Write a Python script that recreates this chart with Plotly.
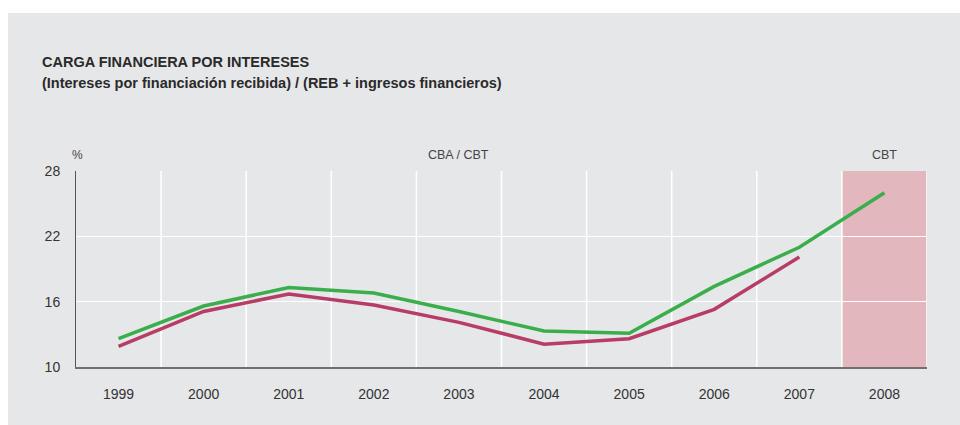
import plotly.graph_objects as go

years = [1999, 2000, 2001, 2002, 2003, 2004, 2005, 2006, 2007, 2008]
year_labels = [str(y) for y in years]
green_vals = [12.6, 15.6, 17.3, 16.8, 15.1, 13.3, 13.1, 17.4, 21.0, 26.0]
red_years = [1999, 2000, 2001, 2002, 2003, 2004, 2005, 2006, 2007]
red_vals = [11.9, 15.1, 16.7, 15.7, 14.1, 12.1, 12.6, 15.3, 20.1]
y_ticks = [10, 16, 22, 28]

FONT = "Liberation Sans, Arial, Helvetica, sans-serif"
BG = "#e6e7e9"

W, H = 960, 425
ML, MR, MT, MB = 76, 33, 171, 58
PW, PH = W - ML - MR, H - MT - MB

fig = go.Figure()
fig.add_trace(go.Scatter(x=years, y=green_vals, mode="lines",
                         line=dict(color="#3aae4a", width=3.5), showlegend=False, hoverinfo="skip"))
fig.add_trace(go.Scatter(x=red_years, y=red_vals, mode="lines",
                         line=dict(color="#b73c66", width=3.5), showlegend=False, hoverinfo="skip"))

shapes = []
shapes.append(dict(type="rect", xref="paper", yref="paper", x0=-(ML - 8) / PW, x1=1 + (MR + 10) / PW,
                   y0=-(MB + 10) / PH, y1=1 + (MT - 13) / PH, fillcolor=BG, line=dict(width=0), layer="below"))
shapes.append(dict(type="rect", xref="x", yref="y", x0=years[-1] - 0.5, x1=years[-1] + 0.5,
                   y0=y_ticks[0], y1=y_ticks[-1], fillcolor="#e2b8be", line=dict(width=0), layer="below"))
for yr in years:
    shapes.append(dict(type="line", xref="x", yref="y", x0=yr + 0.5, x1=yr + 0.5,
                       y0=y_ticks[0], y1=y_ticks[-1], line=dict(color="white", width=1.5), layer="below"))

def py(px_from_top):
    return 1 + (MT - px_from_top) / PH

fig.update_layout(
    width=W, height=H,
    margin=dict(l=ML, r=MR, t=MT, b=MB),
    paper_bgcolor="white", plot_bgcolor=BG,
    font=dict(family=FONT, color="#333333", size=14),
    shapes=shapes,
    hovermode=False,
    xaxis=dict(range=[years[0] - 0.5, years[-1] + 0.5], tickvals=years, ticktext=year_labels,
               showgrid=False, zeroline=False, showline=True, linecolor="#707070", linewidth=1.5,
               ticks="", ticklabelstandoff=14, tickfont=dict(size=14, color="#333333"), fixedrange=True),
    yaxis=dict(range=[y_ticks[0], y_ticks[-1]], tickvals=y_ticks, showgrid=True, gridcolor="white",
               gridwidth=1.5, zeroline=False, showline=True, linecolor="#555555", linewidth=1,
               ticks="", ticklabelstandoff=12, tickfont=dict(size=14, color="#333333"), fixedrange=True),
    annotations=[
        dict(text="<b>CARGA FINANCIERA POR INTERESES</b>", xref="paper", yref="paper",
             x=-(ML - 40) / PW, y=py(62), xanchor="left", yanchor="middle", showarrow=False,
             font=dict(size=14.5, color="#2a2a2a")),
        dict(text="<b>(Intereses por financiación recibida) / (REB + ingresos financieros)</b>",
             xref="paper", yref="paper",
             x=-(ML - 40) / PW, y=py(83), xanchor="left", yanchor="middle", showarrow=False,
             font=dict(size=14.5, color="#2a2a2a")),
        dict(text="%", xref="paper", yref="paper", x=-6 / PW, y=py(155), xanchor="left",
             yanchor="middle", showarrow=False, font=dict(size=12, color="#444444")),
        dict(text="CBA / CBT", xref="x", yref="paper", x=2003.0, y=py(155), xanchor="center",
             yanchor="middle", showarrow=False, font=dict(size=12.5, color="#444444")),
        dict(text="CBT", xref="x", yref="paper", x=2008, y=py(155), xanchor="center",
             yanchor="middle", showarrow=False, font=dict(size=12.5, color="#444444")),
    ],
)

fig.write_html("out.html", config={"displayModeBar": False, "staticPlot": True},
               post_script="document.body.style.margin='0';document.documentElement.style.overflow='hidden';")
